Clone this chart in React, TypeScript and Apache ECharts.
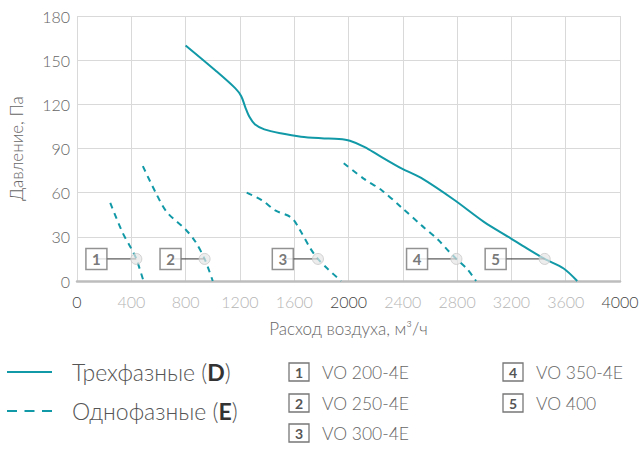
import React, { useEffect, useRef } from "react";
import * as echarts from "echarts";

const TEAL = "#1199a7";
const FONT = "Lato, 'Noto Sans', sans-serif";

const xTicks = [0, 400, 800, 1200, 1600, 2000, 2400, 2800, 3200, 3600, 4000];
const yTicks = [0, 30, 60, 90, 120, 150, 180];

// VO 400 (three-phase, D)
const seriesD: number[][] = [
  [800, 160], [1020, 143], [1165, 131], [1210, 125.5], [1240, 118], [1270, 111.5],
  [1310, 106.5], [1380, 103], [1500, 100.3], [1650, 98], [1800, 97], [1930, 96.5],
  [2010, 95.3], [2120, 91], [2220, 85.5], [2390, 76.5], [2535, 70], [2780, 55],
  [3000, 40], [3195, 29], [3290, 23.5], [3445, 15], [3585, 8.5], [3685, 0],
];
// single-phase (E)
const seriesE1: number[][] = [[245, 53], [335, 33], [400, 22], [437, 15], [490, 0]];
const seriesE2: number[][] = [[485, 78], [580, 60], [660, 47], [800, 35], [870, 27], [940, 15], [1000, 0]];
const seriesE3: number[][] = [
  [1250, 60], [1360, 55], [1460, 48], [1580, 43], [1640, 35], [1720, 22], [1775, 15], [1850, 8], [1945, 0],
];
const seriesE4: number[][] = [
  [1965, 80], [2120, 69], [2240, 62], [2390, 50], [2535, 38], [2660, 28], [2740, 20], [2795, 15], [2875, 8], [2940, 0],
];

const markerLevel = 15;
const markerX = [437, 940, 1775, 2795, 3445];
const boxX = [143, 689, 1516, 2505, 3084];
const modelNames = ["VO 200-4E", "VO 250-4E", "VO 300-4E", "VO 350-4E", "VO 400"];

const darkXLabels = [0, 2000, 4000];

export default function App() {
  const ref = useRef<HTMLDivElement>(null);
  useEffect(() => {
    if (!ref.current) return;
    const chart = echarts.init(ref.current, undefined, { renderer: "svg" });

    const connectors = markerX.map((mx, i) => ({
      type: "line",
      data: [[boxX[i], markerLevel], [mx, markerLevel]],
      symbol: "none",
      lineStyle: { color: "#333", width: 1 },
      z: 3,
      silent: true,
    }));

    const dashed = [seriesE1, seriesE2, seriesE3, seriesE4].map((d) => ({
      type: "line",
      data: d,
      smooth: 0.3,
      symbol: "none",
      lineStyle: { color: TEAL, width: 2, type: [6, 5] },
      z: 2,
    }));

    const legendRows = [372, 403, 433];
    const graphics: any[] = [
      { type: "line", shape: { x1: 7, y1: 372, x2: 52, y2: 372 }, style: { stroke: TEAL, lineWidth: 2 } },
      { type: "line", shape: { x1: 7, y1: 411, x2: 52, y2: 411 }, style: { stroke: TEAL, lineWidth: 2, lineDash: [10, 7.5] } },
      {
        type: "text", x: 72, y: 372,
        style: {
          text: "{a|Трехфазные (}{b|D}{a|)}",
          verticalAlign: "middle",
          rich: {
            a: { fontSize: 23, fontFamily: FONT, fontWeight: 300, fill: "#555" },
            b: { fontSize: 23, fontFamily: FONT, fontWeight: "bold", fill: "#333" },
          },
        },
      },
      {
        type: "text", x: 72, y: 411,
        style: {
          text: "{a|Однофазные (}{b|E}{a|)}",
          verticalAlign: "middle",
          rich: {
            a: { fontSize: 23, fontFamily: FONT, fontWeight: 300, fill: "#555" },
            b: { fontSize: 23, fontFamily: FONT, fontWeight: "bold", fill: "#333" },
          },
        },
      },
    ];
    modelNames.forEach((name, i) => {
      const col = i < 3 ? 0 : 1;
      const row = i < 3 ? i : i - 3;
      const bx = col === 0 ? 289 : 503;
      const cy = legendRows[row];
      graphics.push({
        type: "rect",
        shape: { x: bx, y: cy - 9, width: 20, height: 18 },
        style: { fill: "#fff", stroke: "#777", lineWidth: 1.3 },
      });
      graphics.push({
        type: "text", x: bx + 10, y: cy,
        style: {
          text: String(i + 1), align: "center", verticalAlign: "middle",
          fontSize: 14, fontWeight: "bold", fontFamily: FONT, fill: "#555",
        },
      });
      graphics.push({
        type: "text", x: bx + 33, y: cy,
        style: {
          text: name, verticalAlign: "middle",
          fontSize: 17.5, fontWeight: 300, fontFamily: FONT, fill: "#666",
        },
      });
    });

    chart.setOption({
      animation: false,
      grid: { left: 74, right: 23, top: 16, bottom: 170, containLabel: false },
      xAxis: {
        type: "value",
        min: 0, max: 4000, interval: 400,
        name: "Расход воздуха, м³/ч",
        nameLocation: "middle",
        nameGap: 39,
        nameTextStyle: { fontSize: 17, fontFamily: FONT, fontWeight: 300, color: "#666" },
        axisLine: { show: true, lineStyle: { color: "#bdbdbd", width: 2.5 } },
        axisTick: { show: false },
        axisLabel: {
          margin: 12,
          fontSize: 16,
          fontFamily: FONT,
          fontWeight: 300,
          color: (v: any) => (darkXLabels.includes(Number(v)) ? "#444" : "#b5b5b5"),
          formatter: (v: number) => (xTicks.includes(v) ? String(v) : ""),
        },
        splitLine: { show: true, lineStyle: { color: "#d9d9d9", width: 1 } },
      },
      yAxis: {
        type: "value",
        min: 0, max: 180, interval: 30,
        name: "Давление, Па",
        nameLocation: "middle",
        nameGap: 52,
        nameTextStyle: { fontSize: 17, fontFamily: FONT, fontWeight: 300, color: "#666" },
        axisLine: { show: false },
        axisTick: { show: false },
        axisLabel: {
          margin: 7,
          fontSize: 16,
          fontFamily: FONT,
          fontWeight: 300,
          color: "#666",
          formatter: (v: number) => (yTicks.includes(v) ? String(v) : ""),
        },
        splitLine: { show: true, lineStyle: { color: "#d9d9d9", width: 1 } },
      },
      graphic: graphics,
      series: [
        ...connectors,
        {
          type: "line",
          data: seriesD,
          smooth: 0.3,
          symbol: "none",
          lineStyle: { color: TEAL, width: 2 },
          z: 2,
        },
        ...dashed,
        {
          type: "scatter",
          data: markerX.map((x) => [x, markerLevel]),
          symbol: "circle",
          symbolSize: 11,
          itemStyle: { color: "rgba(228,228,228,0.85)", borderColor: "#c8c8c8", borderWidth: 1 },
          z: 4,
          silent: true,
        },
        {
          type: "scatter",
          data: boxX.map((x, i) => ({ value: [x, markerLevel], name: String(i + 1) })),
          symbol: "rect",
          symbolSize: [21, 21],
          itemStyle: { color: "#fff", borderColor: "#777", borderWidth: 1.5 },
          label: {
            show: true, position: "inside", formatter: "{b}",
            fontSize: 15, fontWeight: "bold", fontFamily: FONT, color: "#555",
          },
          z: 5,
          silent: true,
        },
      ],
    });
    return () => chart.dispose();
  }, []);
  return <div ref={ref} style={{ width: 643, height: 451, position: "absolute", left: 0, top: 0 }} />;
}
